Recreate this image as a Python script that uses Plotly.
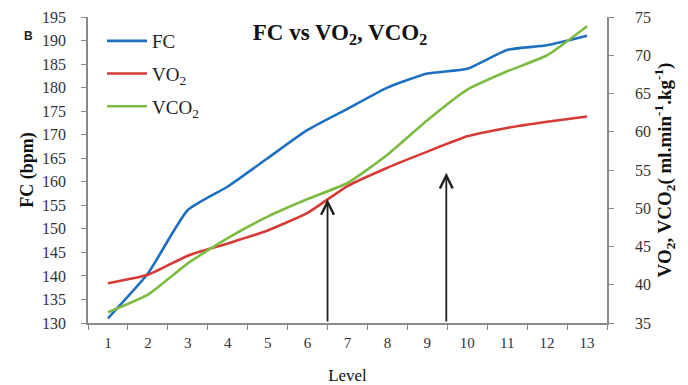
import plotly.graph_objects as go

# Exercise test levels and measured series
levels = [str(i) for i in range(1, 14)]
fc = [131, 140.5, 154, 159, 165, 171, 175.5, 180, 183, 184, 188, 189, 191]
vo2 = [40.2, 41.3, 43.8, 45.4, 47.1, 49.4, 52.9, 55.3, 57.4, 59.4, 60.5, 61.3, 62.0]
vco2 = [36.4, 38.7, 42.8, 46.1, 48.9, 51.2, 53.3, 57.0, 61.5, 65.5, 67.9, 70.0, 73.8]

# Threshold markers: category position (0-based index) and arrow tip on FC scale
arrow_pos = [5.5, 8.475]
arrow_tip = [156.3, 161.9]

serif = "Liberation Serif"
blue, red, green = "#1f6fc0", "#d63a36", "#7dbb42"

fig = go.Figure()
fig.add_trace(go.Scatter(x=levels, y=fc, name="FC", mode="lines",
                         line=dict(color=blue, width=2.6, shape="spline", smoothing=0.5),
                         legendgroup="a"))
fig.add_trace(go.Scatter(x=levels, y=vo2, name="VO<sub>2</sub>", mode="lines", yaxis="y2",
                         line=dict(color=red, width=2.6, shape="spline", smoothing=0.5),
                         legendgroup="b"))
fig.add_trace(go.Scatter(x=levels, y=vco2, name="VCO<sub>2</sub>", mode="lines", yaxis="y2",
                         line=dict(color=green, width=2.6, shape="spline", smoothing=0.5),
                         legendgroup="c"))

for xp, tip in zip(arrow_pos, arrow_tip):
    fig.add_annotation(x=xp, y=tip, ax=xp, ay=130, xref="x", yref="y",
                       axref="x", ayref="y", showarrow=True, arrowhead=5,
                       arrowsize=1.4, arrowwidth=1.8, arrowcolor="#222", text="")

# panel letter
fig.add_annotation(text="<b>B</b>", x=(22 - 88) / 519, y=1 - (27 - 17) / 306,
                   xref="paper", yref="paper", showarrow=False,
                   font=dict(family="Liberation Sans", size=12, color="#222"))

axis_common = dict(showline=True, linecolor="#8a8a8a", linewidth=1.5, showgrid=False,
                   zeroline=False, ticks="outside", ticklen=5, tickcolor="#8a8a8a",
                   automargin=False,
                   tickfont=dict(family=serif, size=16, color="#333"))

fig.update_layout(
    width=688, height=385,
    margin=dict(l=88, r=81, t=17, b=62),
    paper_bgcolor="white", plot_bgcolor="white",
    title=dict(text="<b>FC vs VO<sub>2</sub>, VCO<sub>2</sub></b>", x=340 / 688, y=1 - 32 / 385,
               xanchor="center", yanchor="middle",
               font=dict(family=serif, size=23, color="#111")),
    xaxis=dict(**{**axis_common, "tickfont": dict(family=serif, size=15, color="#333")},
               type="category", tickson="boundaries", range=[-0.5, 12.5],
               ticklabelstandoff=5,
               title=dict(text="Level", font=dict(family=serif, size=17, color="#111"),
                          standoff=20)),
    yaxis=dict(**axis_common, range=[130, 195], dtick=5, tick0=130,
               ticklabelstandoff=12,
               title=dict(text="<b>FC (bpm)</b>", font=dict(family=serif, size=18, color="#111"),
                          standoff=4)),
    yaxis2=dict(**axis_common, overlaying="y", side="right", range=[35, 75], dtick=5, tick0=35,
                ticklabelstandoff=18,
                title=dict(text="<b>VO<sub>2</sub>, VCO<sub>2</sub>( ml.min<sup>-1</sup>.kg<sup>-1</sup>)</b>",
                           font=dict(family=serif, size=19, color="#111"), standoff=5)),
    legend=dict(x=(102 - 88) / 519, y=1 - (22 - 17) / 306, xanchor="left", yanchor="top",
                bgcolor="rgba(0,0,0,0)", tracegroupgap=5, itemwidth=40,
                font=dict(family=serif, size=19, color="#222")),
    showlegend=True,
)

fig.write_html("out.html")
